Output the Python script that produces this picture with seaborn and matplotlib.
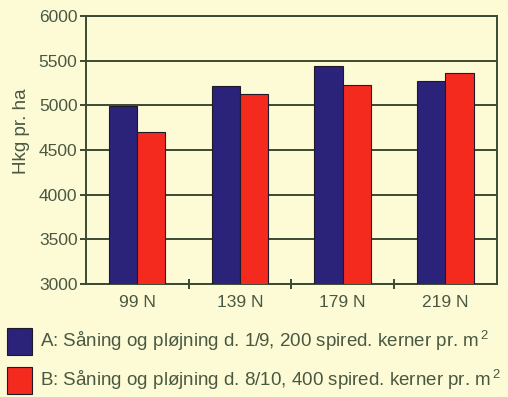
import matplotlib
matplotlib.use("Agg")
import matplotlib.pyplot as plt
import matplotlib.patches as mpatches
import seaborn as sns
import pandas as pd

# Yield per nitrogen level for the two sowing/ploughing treatments
categories = ["99 N", "139 N", "179 N", "219 N"]
series_a = [4995, 5220, 5435, 5275]
series_b = [4695, 5130, 5230, 5355]
label_a = "A: Såning og pløjning d. 1/9, 200 spired. kerner pr. m$^{\\,2}$"
label_b = "B: Såning og pløjning d. 8/10, 400 spired. kerner pr. m$^{\\,2}$"
y_ticks = [3000, 3500, 4000, 4500, 5000, 5500, 6000]
y_label = "Hkg pr. ha"

df = pd.DataFrame({
    "N": categories * 2,
    "yield": series_a + series_b,
    "group": ["A"] * len(categories) + ["B"] * len(categories),
})

sns.set_theme(style="white")
plt.rcParams["font.family"] = ["Liberation Sans", "DejaVu Sans"]
plt.rcParams["mathtext.fontset"] = "custom"
plt.rcParams["mathtext.rm"] = "Liberation Sans"
plt.rcParams["mathtext.it"] = "Liberation Sans"

bg = "#fcfbd6"
ink = "#4a5842"
line = "#3b4a33"
blue = "#2b2279"
red = "#f52a1f"
edge = "#1e1a2a"

fig = plt.figure(figsize=(5.08, 3.97), dpi=100, facecolor=bg)
ax = fig.add_axes([0.169, 0.285, 0.809, 0.675])
ax.set_facecolor(bg)

sns.barplot(data=df, x="N", y="yield", hue="group", palette=[blue, red],
            saturation=1, width=0.55, dodge=True, edgecolor=edge,
            linewidth=0.8, ax=ax, legend=False, zorder=3)

ax.set_ylim(3000, 6000)
ax.set_xlim(-0.5, len(categories) - 0.5)
ax.set_yticks(y_ticks)
ax.yaxis.grid(True, color=line, linewidth=1.4, zorder=0)
ax.set_axisbelow(True)
ax.set_ylabel(y_label, fontsize=13.5, color=ink)
ax.yaxis.set_label_coords(-0.135, 0.57)
ax.set_xlabel("")

for s in ax.spines.values():
    s.set_color(line)
    s.set_linewidth(1.4)

ax.tick_params(axis="y", which="major", length=4, width=1.4, color=line,
               labelsize=12.5, labelcolor=ink, pad=2, left=True)
ax.tick_params(axis="x", which="major", length=0, labelsize=12.5,
               labelcolor=ink, pad=8)
ax.set_xticks([0.5, 1.5, 2.5], minor=True)
ax.tick_params(axis="x", which="minor", direction="inout", length=7,
               width=1.4, color=line, bottom=True)

handles = [mpatches.Patch(facecolor=blue, edgecolor=edge, linewidth=0.8),
           mpatches.Patch(facecolor=red, edgecolor=edge, linewidth=0.8)]
leg = fig.legend(handles, [label_a, label_b], loc="lower left",
                 bbox_to_anchor=(0.004, -0.005), frameon=False, fontsize=13.5,
                 handlelength=1.35, handleheight=1.9, handletextpad=0.45,
                 labelspacing=0.6, borderpad=0.15, borderaxespad=0.1)
for t in leg.get_texts():
    t.set_color(ink)

fig.savefig("out.png", dpi=100, facecolor=bg)
